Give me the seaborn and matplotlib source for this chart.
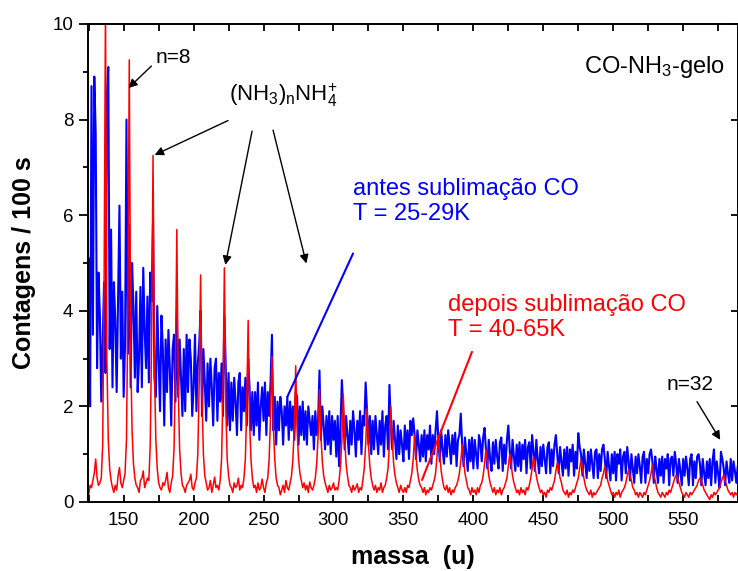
import numpy as np
import pandas as pd
import matplotlib
matplotlib.use("Agg")
import matplotlib.pyplot as plt
from matplotlib.ticker import MultipleLocator
import seaborn as sns

# ---------------- data (1 u sampling) ----------------
mass_start = 125  # first mass (u); one value per u

# "depois sublimação CO, T = 40-65K"  (each row = one 17 u period, peak at (NH3)nNH4+)
red_counts = [
    0.15, 0.35, 0.3, 0.45, 0.6, 0.9, 0.5, 0.35, 0.4, 0.5, 1.2, 4.5, 10.4, 3.0, 1.3, 0.7, 0.45,
    0.3, 0.2, 0.35, 0.25, 0.55, 0.72, 0.4, 0.3, 0.45, 0.6, 1.3, 4.0, 9.25, 3.2, 1.5, 0.8, 0.5,
    0.35, 0.3, 0.2, 0.45, 0.5, 0.65, 0.3, 0.4, 0.5, 0.45, 1.2, 3.5, 7.25, 2.8, 1.3, 0.7, 0.4,
    0.3, 0.25, 0.4, 0.35, 0.45, 0.62, 0.3, 0.2, 0.4, 0.55, 1.1, 2.8, 5.7, 2.4, 1.1, 0.6, 0.35,
    0.3, 0.2, 0.35, 0.4, 0.45, 0.58, 0.3, 0.25, 0.4, 0.5, 1.0, 2.5, 4.75, 2.2, 1.0, 0.55, 0.4,
    0.25, 0.3, 0.45, 0.2, 0.35, 0.52, 0.3, 0.35, 0.25, 0.45, 0.9, 2.3, 4.9, 2.0, 0.9, 0.55, 0.35,
    0.3, 0.2, 0.4, 0.3, 0.35, 0.5, 0.25, 0.35, 0.3, 0.5, 0.9, 2.0, 3.8, 1.7, 0.9, 0.5, 0.3,
    0.35, 0.2, 0.4, 0.25, 0.3, 0.48, 0.3, 0.2, 0.4, 0.5, 0.9, 1.8, 3.05, 1.6, 0.9, 0.5, 0.35,
    0.3, 0.15, 0.25, 0.35, 0.2, 0.45, 0.3, 0.25, 0.4, 0.55, 0.9, 1.6, 2.85, 1.5, 0.9, 0.6, 0.45,
    0.3, 0.4, 0.25, 0.35, 0.2, 0.42, 0.3, 0.25, 0.35, 0.5, 0.8, 1.4, 2.35, 1.4, 0.85, 0.55, 0.4,
    0.3, 0.2, 0.35, 0.25, 0.3, 0.4, 0.25, 0.3, 0.25, 0.45, 0.75, 1.3, 2.25, 1.35, 0.8, 0.55, 0.35,
    0.3, 0.2, 0.35, 0.25, 0.3, 0.38, 0.2, 0.3, 0.25, 0.45, 0.7, 1.2, 1.95, 1.2, 0.75, 0.5, 0.35,
    0.25, 0.35, 0.2, 0.3, 0.25, 0.4, 0.2, 0.3, 0.35, 0.5, 0.7, 1.2, 2.0, 1.3, 0.8, 0.55, 0.4,
    0.3, 0.2, 0.35, 0.25, 0.2, 0.3, 0.2, 0.35, 0.3, 0.45, 0.6, 0.9, 1.4, 0.95, 0.65, 0.45, 0.35,
    0.3, 0.2, 0.3, 0.15, 0.25, 0.2, 0.3, 0.25, 0.35, 0.45, 0.6, 0.95, 1.4, 1.0, 0.65, 0.45, 0.3,
    0.25, 0.35, 0.2, 0.3, 0.15, 0.25, 0.2, 0.3, 0.35, 0.45, 0.6, 0.85, 1.2, 0.9, 0.6, 0.45, 0.3,
    0.25, 0.15, 0.3, 0.2, 0.25, 0.15, 0.3, 0.2, 0.35, 0.4, 0.55, 0.8, 1.1, 0.85, 0.55, 0.4, 0.3,
    0.2, 0.3, 0.15, 0.25, 0.2, 0.3, 0.15, 0.25, 0.3, 0.4, 0.5, 0.75, 1.0, 0.8, 0.55, 0.4, 0.3,
    0.2, 0.25, 0.15, 0.3, 0.2, 0.25, 0.15, 0.3, 0.25, 0.35, 0.5, 0.7, 0.95, 0.75, 0.55, 0.4, 0.3,
    0.2, 0.25, 0.15, 0.2, 0.1, 0.25, 0.2, 0.3, 0.25, 0.35, 0.45, 0.65, 0.82, 0.7, 0.5, 0.4, 0.25,
    0.2, 0.15, 0.25, 0.1, 0.2, 0.15, 0.25, 0.2, 0.3, 0.4, 0.5, 0.7, 0.88, 0.7, 0.5, 0.35, 0.25,
    0.2, 0.15, 0.25, 0.1, 0.2, 0.15, 0.2, 0.25, 0.3, 0.35, 0.5, 0.6, 0.75, 0.6, 0.45, 0.35, 0.25,
    0.15, 0.2, 0.1, 0.2, 0.15, 0.25, 0.1, 0.2, 0.25, 0.3, 0.4, 0.55, 0.67, 0.55, 0.45, 0.3, 0.25,
    0.15, 0.2, 0.1, 0.2, 0.15, 0.1, 0.2, 0.15, 0.25, 0.35, 0.45, 0.6, 0.77, 0.55, 0.45, 0.3, 0.2,
    0.15, 0.1, 0.2, 0.15, 0.1, 0.2, 0.15, 0.25, 0.2, 0.3, 0.4, 0.5, 0.56, 0.5, 0.4, 0.3, 0.2,
    0.15, 0.1, 0.2, 0.15, 0.1, 0.2, 0.15, 0.2, 0.25, 0.3, 0.35, 0.45, 0.5, 0.45, 0.35, 0.25, 0.2,
    0.15, 0.1, 0.05, 0.15, 0.1, 0.2, 0.15, 0.2, 0.25, 0.3, 0.4, 0.5, 0.56, 0.45, 0.35, 0.25, 0.2,
    0.15, 0.2, 0.1, 0.2, 0.15, 0.2,
]

# "antes sublimação CO, T = 25-29K"
blue_counts = [
    5.1, 2.0, 8.7, 3.5, 8.9, 7.7, 2.8, 4.8, 3.9, 2.1, 3.4, 4.6, 2.7, 8.5, 9.1, 3.2, 5.7,
    2.4, 4.6, 3.8, 2.3, 4.3, 6.2, 3.0, 4.4, 2.2, 3.3, 8.0, 3.1, 5.8, 2.4, 5.0, 4.1, 2.6,
    4.4, 2.3, 3.0, 4.5, 2.4, 4.9, 3.6, 2.8, 4.3, 2.5, 4.8, 4.2, 5.9, 2.6, 2.2, 4.1, 3.0,
    1.9, 3.9, 3.2, 1.6, 3.4, 2.3, 3.6, 2.8, 1.6, 3.2, 3.5, 2.1, 4.0, 2.2, 3.4, 2.6, 1.8,
    3.2, 1.9, 3.5, 2.3, 3.4, 3.0, 1.8, 2.4, 3.5, 1.9, 2.9, 3.3, 4.0, 1.8, 3.2, 2.5, 1.7,
    2.9, 2.0, 3.0, 2.4, 1.6, 2.8, 3.0, 1.7, 2.7, 2.1, 2.9, 1.8, 3.9, 2.8, 1.6, 2.7, 1.5,
    2.5, 1.7, 2.6, 2.1, 1.4, 2.5, 2.7, 1.5, 2.4, 1.9, 2.6, 1.6, 3.0, 2.4, 1.5, 2.3, 1.4,
    2.3, 1.6, 2.5, 1.3, 2.0, 2.4, 1.7, 2.5, 1.4, 2.3, 1.8, 2.5, 3.5, 1.5, 2.2, 1.2, 2.1,
    1.5, 2.2, 1.9, 1.2, 2.0, 1.6, 2.2, 1.3, 2.1, 1.5, 2.0, 1.3, 2.3, 2.2, 1.2, 2.0, 1.4,
    2.1, 1.3, 1.9, 1.2, 2.0, 1.7, 1.4, 1.8, 1.1, 1.9, 1.4, 1.7, 2.75, 1.3, 2.0, 1.6, 1.1,
    1.8, 1.2, 1.9, 1.0, 1.8, 1.3, 1.7, 0.95, 1.8, 0.75, 1.6, 2.55, 1.9, 1.1, 1.8, 1.4, 1.0,
    1.7, 1.2, 1.9, 1.5, 0.95, 1.7, 1.3, 1.9, 1.0, 1.8, 1.6, 2.5, 1.9, 1.2, 1.8, 1.0, 1.7,
    1.1, 1.8, 1.4, 1.0, 1.7, 1.2, 1.9, 0.95, 1.6, 1.8, 1.1, 2.45, 1.6, 1.1, 1.7, 1.3, 0.9,
    1.6, 1.0, 1.5, 1.2, 0.85, 1.6, 1.1, 1.5, 0.9, 1.7, 1.4, 1.75, 1.4, 0.9, 1.5, 1.2, 0.85,
    1.4, 0.95, 1.5, 0.85, 1.4, 1.1, 1.6, 0.8, 1.4, 1.0, 1.5, 1.9, 1.3, 0.85, 1.5, 1.1, 0.8,
    1.4, 0.95, 1.5, 1.2, 0.8, 1.4, 1.0, 1.45, 0.75, 1.3, 1.4, 1.85, 1.2, 0.75, 1.35, 1.0, 0.65,
    1.3, 0.85, 1.35, 0.7, 1.3, 1.0, 0.7, 1.4, 1.25, 0.85, 1.35, 1.55, 1.1, 0.7, 1.3, 0.9, 0.65,
    1.25, 0.8, 1.3, 0.95, 0.7, 1.25, 1.35, 0.65, 1.2, 0.8, 1.3, 1.6, 1.1, 0.7, 1.3, 0.95, 0.65,
    1.2, 0.75, 1.25, 0.65, 1.2, 0.9, 1.3, 0.6, 1.15, 1.25, 0.7, 1.4, 1.05, 0.65, 1.3, 0.9, 0.6,
    1.15, 0.75, 1.2, 0.9, 0.6, 1.15, 1.25, 0.6, 1.1, 0.75, 1.2, 1.4, 1.0, 0.6, 1.15, 0.85, 0.55,
    1.1, 0.7, 1.15, 0.55, 1.1, 0.85, 1.2, 0.55, 1.05, 0.7, 1.44, 1.15, 1.0, 0.55, 1.1, 0.8, 0.5,
    1.05, 0.65, 1.1, 0.8, 0.5, 1.05, 1.1, 0.5, 1.0, 0.65, 1.1, 1.2, 0.9, 0.5, 1.05, 0.75, 0.45,
    1.0, 0.6, 1.05, 0.45, 1.0, 0.8, 1.1, 0.45, 0.95, 1.05, 0.6, 1.15, 0.85, 0.45, 1.0, 0.7, 0.4,
    0.95, 0.6, 1.0, 0.75, 0.4, 0.95, 1.05, 0.4, 0.9, 0.6, 1.0, 1.1, 0.85, 0.4, 0.95, 0.7, 0.4,
    0.9, 0.55, 0.95, 0.4, 0.9, 0.7, 1.0, 0.35, 0.9, 0.95, 0.55, 1.05, 0.8, 0.4, 0.9, 0.65, 0.35,
    0.9, 0.55, 0.95, 0.7, 0.35, 0.9, 1.0, 0.35, 0.85, 0.5, 0.95, 1.0, 0.8, 0.35, 0.9, 0.6, 0.35,
    0.85, 0.5, 0.9, 0.35, 0.85, 1.1, 0.4, 0.85, 0.6, 0.3, 1.05, 0.9, 0.7, 0.35, 0.85, 0.6, 0.4,
    0.9, 0.45, 0.85, 0.65, 0.4, 0.75,
]

series_names = ["antes sublimação CO", "depois sublimação CO"]
series_colors = ["#0000ff", "#ff0000"]
blue_label = "antes sublimação CO\nT = 25-29K"
red_label = "depois sublimação CO\nT = 40-65K"

# ---------------- build table ----------------
mass_blue = np.arange(mass_start, mass_start + len(blue_counts))
mass_red = np.arange(mass_start, mass_start + len(red_counts))
df = pd.DataFrame({
    "massa": np.concatenate([mass_blue, mass_red]),
    "contagens": np.array(blue_counts + red_counts, dtype=float),
    "serie": [series_names[0]] * len(blue_counts) + [series_names[1]] * len(red_counts),
})

# ---------------- style ----------------
sns.set_style("ticks")
plt.rcParams["font.family"] = ["Liberation Sans", "DejaVu Sans"]
plt.rcParams["mathtext.fontset"] = "custom"
plt.rcParams["mathtext.rm"] = "Liberation Sans"
plt.rcParams["mathtext.it"] = "Liberation Sans:italic"
plt.rcParams["mathtext.bf"] = "Liberation Sans:bold"
for key in ["text.color", "axes.labelcolor", "xtick.color", "ytick.color", "axes.edgecolor"]:
    plt.rcParams[key] = "black"

fig = plt.figure(figsize=(7.38, 5.71), dpi=100)
ax = fig.add_axes([88 / 738, 69 / 571, 650 / 738, 478 / 571])

sns.lineplot(data=df, x="massa", y="contagens", hue="serie",
             palette=dict(zip(series_names, series_colors)),
             estimator=None, sort=False, legend=False, ax=ax)
ax.lines[0].set_linewidth(1.5)
ax.lines[1].set_linewidth(1.1)

ax.set_xlim(124.5, 589.2)
ax.set_ylim(0, 10)
ax.xaxis.set_major_locator(MultipleLocator(50))
ax.xaxis.set_minor_locator(MultipleLocator(25))
ax.yaxis.set_major_locator(MultipleLocator(2))
ax.yaxis.set_minor_locator(MultipleLocator(1))

for s in ax.spines.values():
    s.set_linewidth(1.4)
    s.set_color("black")

ax.tick_params(axis="x", which="both", direction="in", top=True, bottom=True,
               length=5, width=1.3, labelsize=13.5, pad=7, colors="black")
ax.tick_params(axis="y", which="major", direction="out", left=True, right=False,
               length=6.5, width=1.3, labelsize=13.5, pad=4, colors="black")
ax.tick_params(axis="y", which="minor", direction="out", left=True, right=False,
               length=3.5, width=1.3, colors="black")

# right-hand inward ticks
axr = ax.secondary_yaxis("right")
axr.yaxis.set_major_locator(MultipleLocator(2))
axr.tick_params(axis="y", which="both", direction="in", length=5, width=1.3,
                labelright=False, colors="black")
axr.spines["right"].set_linewidth(1.4)

ax.set_xlabel("massa  (u)", fontsize=18, fontweight="bold", labelpad=12)
ax.set_ylabel("Contagens / 100 s", fontsize=18, fontweight="bold", labelpad=12)

# ---------------- annotations ----------------
arrow = dict(arrowstyle="-|>", color="black", lw=1.0, mutation_scale=13, shrinkA=0, shrinkB=0)

ax.text(185.5, 9.29, "n=8", fontsize=15, ha="center", va="center")
ax.annotate("", xy=(153.4, 8.66), xytext=(169.8, 9.12), arrowprops=arrow)

ax.text(264, 8.5, r"(NH$_\mathrm{3}$)$_\mathrm{n}$NH$_\mathrm{4}^\mathrm{+}$",
        fontsize=16, ha="center", va="center")
ax.annotate("", xy=(172.1, 7.26), xytext=(224.6, 7.98), arrowprops=arrow)
ax.annotate("", xy=(222.7, 4.96), xytext=(241.8, 7.76), arrowprops=arrow)
ax.annotate("", xy=(280.6, 4.99), xytext=(256.8, 7.78), arrowprops=arrow)

ax.text(580, 9.1, r"CO-NH$_\mathrm{3}$-gelo", fontsize=17, ha="right", va="center")

ax.text(314.2, 6.78, blue_label, fontsize=17, color=series_colors[0],
        ha="left", va="top", linespacing=1.2)
ax.plot([314.0, 267.0], [5.2, 2.2], color=series_colors[0], lw=1.5)

ax.text(381.9, 4.35, red_label, fontsize=17, color=series_colors[1],
        ha="left", va="top", linespacing=1.2)
ax.plot([399.0, 363.3], [3.14, 0.46], color=series_colors[1], lw=1.5)

ax.text(555, 2.45, "n=32", fontsize=15, ha="center", va="center")
ax.annotate("", xy=(576.5, 1.3), xytext=(559.9, 2.1), arrowprops=arrow)

fig.savefig("out.png", dpi=100)
